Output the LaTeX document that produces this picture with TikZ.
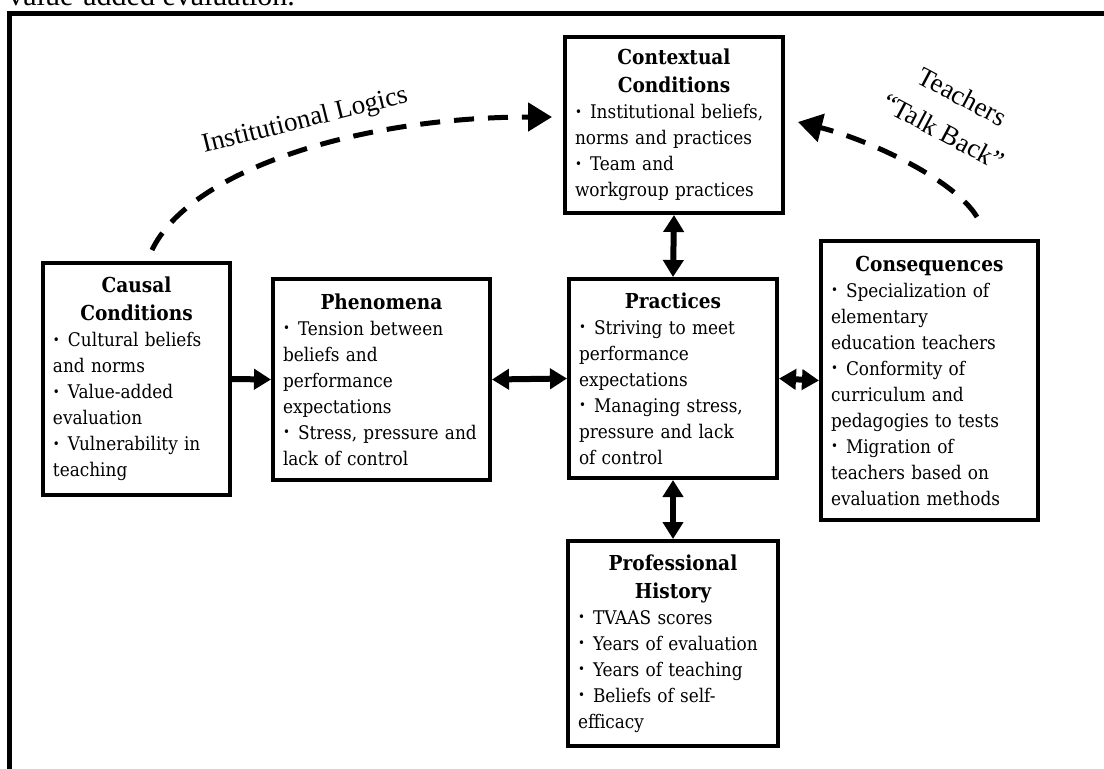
\documentclass[tikz,border=0pt]{standalone}
\usepackage{fontspec}
\newfontfamily\boxfont{DejaVu Serif Condensed}
\newfontfamily\capfont{Liberation Serif}
\usetikzlibrary{arrows.meta}

\tikzset{
  blk/.style={draw, rectangle, line width=2pt, fill=white,
    inner xsep=5pt, inner ysep=2pt,
    font=\boxfont\fontsize{9.4}{13}\selectfont},
  lbl/.style={inner sep=0pt, font=\capfont\fontsize{13.5}{20}\selectfont},
  link/.style={line width=3pt, -{Triangle[length=8.5pt,width=10pt]}},
  twoway/.style={line width=3pt,
    {Triangle[length=8.5pt,width=10pt]}-{Triangle[length=8.5pt,width=10pt]}},
  logic/.style={line width=2.5pt, dash pattern=on 10pt off 7pt,
    -{Triangle[length=12pt,width=14pt]}}
}

\newcommand{\hd}[1]{{\centering\bfseries\fontsize{10.3}{14}\selectfont #1\par}}
\newcommand{\bul}[1]{\hangindent=7.5pt\hangafter=1\noindent
  \makebox[7.5pt][l]{\fontsize{6.5}{6.5}\selectfont\raisebox{.35ex}{\textbullet}}#1\par}

\begin{document}
\begin{tikzpicture}[x=0.5pt,y=-0.5pt]
  \useasboundingbox (0,0) rectangle (1104,768);

  % caption cut off at the top
  \node[anchor=base west, inner sep=0pt, font=\capfont\fontsize{15}{18}\selectfont]
    (cap) at (8,5) {value-added evaluation.};
  \draw[line width=2.5pt] (9.5,790) -- (9.5,13) -- (1125,13);

  \begin{scope}[every node/.style={blk}]
    \node[text width=99pt, minimum height=88pt] (ctx) at (674,125)
      {\hd{Contextual\\Conditions}
       \bul{Institutional beliefs,\\norms and practices}
       \bul{Team and\\workgroup practices}};
    \node[text width=83.5pt, minimum height=116pt] (causal) at (136.5,379)
      {\hd{Causal\\Conditions}
       \bul{Cultural beliefs\\and norms}
       \bul{Value-added\\evaluation}
       \bul{Vulnerability in\\teaching}};
    \node[text width=98.5pt, minimum height=100.5pt] (phen) at (381.5,379.5)
      {\hd{Phenomena}
       \bul{Tension between\\beliefs and\\performance\\expectations}
       \bul{Stress, pressure and\\lack of control}};
    \node[text width=94pt, minimum height=99.5pt] (prac) at (673,378.5)
      {\hd{Practices}
       \bul{Striving to meet\\performance\\expectations}
       \bul{Managing stress,\\pressure and lack\\of control}};
    \node[text width=98.5pt, minimum height=139.5pt] (cons) at (929.5,380.5)
      {\hd{Consequences}
       \bul{Specialization of\\elementary\\education teachers}
       \bul{Conformity of\\curriculum and\\pedagogies to tests}
       \bul{Migration of\\teachers based on\\evaluation methods}};
    \node[text width=95pt, minimum height=102.5pt] (prof) at (673,643.5)
      {\hd{Professional\\History}
       \bul{TVAAS scores}
       \bul{Years of evaluation}
       \bul{Years of teaching}
       \bul{Beliefs of self-\\efficacy}};
  \end{scope}

  \begin{scope}
    \path [link] (causal.east) edge (phen.west);
    \path [twoway] (phen.east) edge (prac.west);
    \path [twoway] (prac.east) edge (cons.west);
    \path [twoway] (ctx.south) edge (prac.north);
    \path [twoway] (prac.south) edge (prof.north);
  \end{scope}

  % dashed feedback curves
  \coordinate (ilfoot) at (152,250);
  \coordinate (ilhead) at (552,117);
  \draw[logic] (ilfoot) .. controls (190,170) and (360,117) .. (ilhead);
  \node[lbl, rotate=14] (il) at (305,121) {Institutional Logics};

  \coordinate (tbfoot) at (977,217);
  \coordinate (tbhead) at (798,122);
  \draw[logic] (tbfoot) .. controls (955,180) and (870,140) .. (tbhead);
  \node[lbl, rotate=-28, align=center] (tb) at (953,114) {Teachers\\“Talk Back”};
\end{tikzpicture}
\end{document}
